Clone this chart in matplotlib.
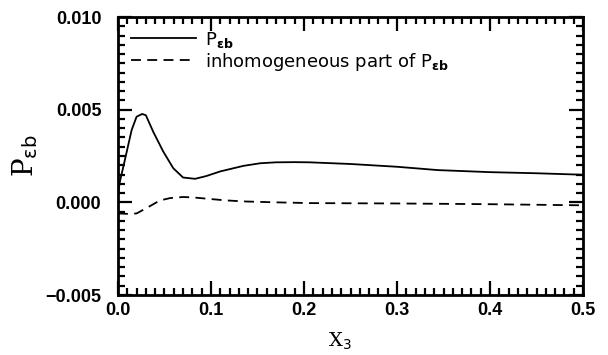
import numpy as np
import matplotlib
matplotlib.use('Agg')
import matplotlib.pyplot as plt
from matplotlib.ticker import MultipleLocator, FuncFormatter

# P_eb (solid)
x_total = [0.0, 0.002, 0.0075, 0.0147, 0.020, 0.026, 0.030, 0.038, 0.0487, 0.0595,
           0.070, 0.083, 0.095, 0.110, 0.135, 0.153, 0.170, 0.190, 0.206, 0.25,
           0.30, 0.344, 0.40, 0.45, 0.50]
p_total = [0.0004, 0.0011, 0.0023, 0.0039, 0.00462, 0.00477, 0.00470, 0.0038, 0.00274, 0.00184,
           0.00134, 0.00127, 0.00142, 0.00167, 0.00197, 0.00211, 0.00216, 0.00217, 0.00216, 0.00207,
           0.00192, 0.00174, 0.00163, 0.00157, 0.00149]

# inhomogeneous part of P_eb (dashed)
x_inhom = [0.0, 0.010, 0.020, 0.031, 0.045, 0.056, 0.070, 0.082, 0.095, 0.115,
           0.135, 0.170, 0.206, 0.25, 0.30, 0.35, 0.40, 0.45, 0.50]
p_inhom = [-0.0006, -0.00062, -0.0006, -0.0003, 0.0001, 0.00023, 0.00029, 0.00026, 0.0002, 0.00011,
           0.00005, 0.0, -0.00004, -0.00005, -0.00006, -0.00008, -0.0001, -0.00013, -0.00016]

plt.rcParams['mathtext.fontset'] = 'dejavusans'

fig = plt.figure(figsize=(6.08, 3.55), dpi=100)
ax = fig.add_axes([0.194, 0.169, 0.765, 0.783])

ax.plot(x_total, p_total, color='black', linewidth=1.3, label=r'P$_{\mathbf{\epsilon b}}$')
ax.plot(x_inhom, p_inhom, color='black', linewidth=1.3, linestyle=(0, (5.5, 3.5)),
        label=r'inhomogeneous part of P$_{\mathbf{\epsilon b}}$')

ax.set_xlim(0, 0.5)
ax.set_ylim(-0.005, 0.010)
ax.xaxis.set_major_locator(MultipleLocator(0.1))
ax.xaxis.set_minor_locator(MultipleLocator(0.01))
ax.yaxis.set_major_locator(MultipleLocator(0.005))
ax.yaxis.set_minor_locator(MultipleLocator(0.0005))
ax.xaxis.set_major_formatter(FuncFormatter(lambda v, p: f'{v:.1f}'))
ax.yaxis.set_major_formatter(FuncFormatter(lambda v, p: f'{v:.3f}'.replace('-', '\u2212')))

for s in ax.spines.values():
    s.set_linewidth(2)
ax.tick_params(which='both', direction='in', top=True, right=True, width=1.6)
ax.tick_params(which='major', length=10)
ax.tick_params(which='minor', length=5)
ax.tick_params(axis='x', which='major', pad=5)
ax.tick_params(axis='y', which='major', pad=12)
for lab in ax.get_xticklabels() + ax.get_yticklabels():
    lab.set_fontfamily('Liberation Sans')
    lab.set_fontweight('bold')
    lab.set_fontsize(13)

ax.set_xlabel(r'X$_3$', family='DejaVu Serif', fontsize=14)
ax.xaxis.set_label_coords(0.477, -0.13)
ax.set_ylabel(r'P$_{\mathrm{\epsilon b}}$', family='DejaVu Serif', fontsize=20, labelpad=4)

leg = ax.legend(loc='upper left', frameon=False, fontsize=13, handlelength=3.6,
                handletextpad=0.5, borderaxespad=0.3, labelspacing=0.05)

fig.savefig('out.png', dpi=100)
